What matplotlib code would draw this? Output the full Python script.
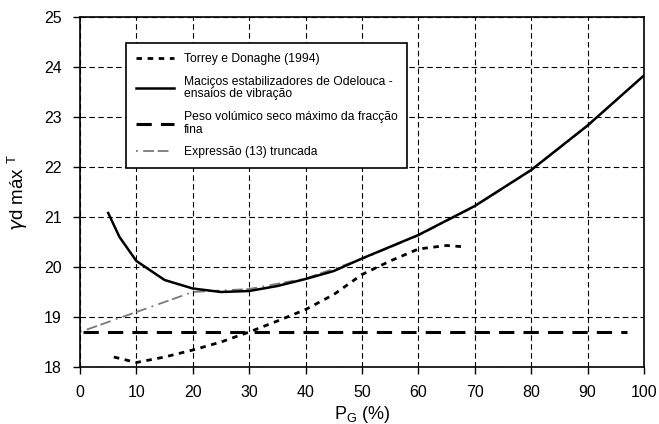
import numpy as np
import matplotlib.pyplot as plt

plt.rcParams['font.family'] = ['Liberation Sans', 'DejaVu Sans']

# Torrey e Donaghe (1994)
x_torrey = [6, 10, 15, 20, 25, 30, 35, 40, 45, 50, 55, 60, 65, 68.5]
y_torrey = [18.2, 18.09, 18.2, 18.34, 18.5, 18.7, 18.92, 19.15, 19.45, 19.85, 20.12, 20.36, 20.43, 20.4]

# Maciços estabilizadores de Odelouca
x_odel = [5, 7, 10, 15, 20, 25, 30, 35, 40, 45, 50, 60, 70, 80, 90, 100]
y_odel = [21.08, 20.6, 20.12, 19.74, 19.57, 19.5, 19.52, 19.62, 19.76, 19.92, 20.17, 20.64, 21.22, 21.94, 22.83, 23.83]

# Peso volúmico seco máximo da fracção fina
x_fina = [0.5, 97]
y_fina = [18.7, 18.7]

# Expressão (13) truncada
x_expr = [0, 10, 20, 30, 40, 50, 60, 70, 80, 90, 100]
y_expr = [18.7, 19.1, 19.5, 19.56, 19.77, 20.16, 20.63, 21.21, 21.93, 22.82, 23.83]

xticks = np.arange(0, 101, 10)
yticks = np.arange(18, 26, 1)

fig = plt.figure(figsize=(6.59, 4.24), dpi=100)
ax = fig.add_axes([0.1214, 0.1344, 0.8558, 0.8256])

ax.grid(True, color='black', linestyle=(0, (5, 3)), linewidth=0.8)
ax.set_axisbelow(True)

ax.plot(x_torrey, y_torrey, color='black', lw=2, linestyle=(0, (2, 2)),
        label='Torrey e Donaghe (1994)')
ax.plot(x_expr, y_expr, color='#7a7a7a', lw=1.3, linestyle=(0, (1, 3, 6, 2, 6, 3)),
        label='Expressão (13) truncada', zorder=2)
ax.plot(x_odel, y_odel, color='black', lw=1.8,
        label='Maciços estabilizadores de Odelouca -\nensaios de vibração', zorder=3)
ax.plot(x_fina, y_fina, color='black', lw=2.2, linestyle=(0, (5, 3)),
        label='Peso volúmico seco máximo da fracção\nfina')

ax.set_xlim(0, 100)
ax.set_ylim(18, 25)
ax.set_xticks(xticks)
ax.set_yticks(yticks)
ax.tick_params(labelsize=11.5, direction='out', length=5, width=1, pad=8)
for s in ax.spines.values():
    s.set_linewidth(1.2)

ax.set_xlabel('P$_{\\mathregular{G}}$ (%)', fontsize=13, labelpad=3)
ax.set_ylabel('$\\gamma$d máx $^{\\mathregular{T}}$', fontsize=13.5, labelpad=10)

h, l = ax.get_legend_handles_labels()
order = [0, 2, 3, 1]
leg = ax.legend([h[i] for i in order], [l[i] for i in order],
                loc='upper left', bbox_to_anchor=(0.0816, 0.925), borderaxespad=0,
                fontsize=8.7, handlelength=3.2, handletextpad=0.8, frameon=True,
                fancybox=False, edgecolor='black', framealpha=1,
                labelspacing=0.9, borderpad=0.8)
leg.get_frame().set_linewidth(1.2)
for t in leg.get_texts():
    t.set_linespacing(1.05)

fig.savefig('out.png', dpi=100)
